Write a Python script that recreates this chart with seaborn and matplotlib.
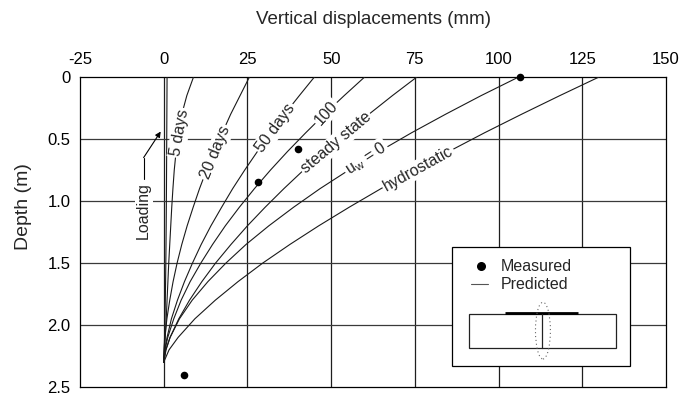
import numpy as np
import pandas as pd
import matplotlib
matplotlib.use("Agg")
import matplotlib.pyplot as plt
from matplotlib.patches import Rectangle, Ellipse
import seaborn as sns

# Depths (m) at which each predicted profile is tabulated
depth = [0.0, 0.15, 0.3, 0.45, 0.6, 0.75, 0.9, 1.05, 1.2, 1.35, 1.5,
         1.65, 1.8, 1.95, 2.1, 2.2, 2.3]

# Predicted vertical displacement profiles (mm)
loading = [1.0, 0.97, 0.94, 0.91, 0.88, 0.85, 0.82, 0.78, 0.74, 0.69,
           0.63, 0.56, 0.48, 0.38, 0.25, 0.13, 0.0]
days_5 = [8.9, 6.9, 5.4, 4.4, 3.7, 3.15, 2.75, 2.4, 2.1, 1.8, 1.5,
          1.25, 1.0, 0.75, 0.45, 0.25, 0.0]
days_20 = [25.6, 22.8, 20.0, 17.5, 15.1, 12.8, 10.7, 8.8, 7.0, 5.4, 4.0,
           2.8, 1.8, 0.95, 0.36, 0.1, 0.0]
days_50 = [45.0, 40.5, 36.1, 32.0, 28.0, 24.2, 20.6, 17.3, 14.1, 11.2, 8.6,
           6.2, 4.1, 2.3, 1.0, 0.3, 0.0]
days_100 = [60.0, 53.9, 48.0, 42.4, 37.0, 31.9, 27.1, 22.6, 18.4, 14.6, 11.1,
            7.9, 5.2, 3.0, 1.2, 0.4, 0.0]
steady = [75.6, 68.3, 61.3, 54.5, 48.0, 41.8, 35.9, 30.3, 25.0, 20.1, 15.5,
          11.4, 7.7, 4.5, 1.9, 0.7, 0.0]
uw_zero = [106.0, 94.8, 84.2, 74.0, 64.4, 55.3, 46.7, 38.8, 31.4, 24.6, 18.6,
           13.2, 8.5, 4.7, 1.9, 0.6, 0.0]
hydrostatic = [130.0, 118.3, 106.9, 95.8, 85.2, 74.8, 64.9, 55.4, 46.3, 37.7,
               29.6, 22.2, 15.4, 9.3, 4.3, 1.6, 0.0]

curve_names = ["Loading", "5 days", "20 days", "50 days", "100",
               "steady state", "u_w = 0", "hydrostatic"]
curve_values = [loading, days_5, days_20, days_50, days_100,
                steady, uw_zero, hydrostatic]

# Measured displacements
meas_disp = [106.5, 40.0, 28.3, 6.0]
meas_depth = [0.0, 0.58, 0.85, 2.4]

x_ticks = [-25, 0, 25, 50, 75, 100, 125, 150]
y_ticks = [0.0, 0.5, 1.0, 1.5, 2.0, 2.5]
y_ticklabels = ["0", "0.5", "1.0", "1.5", "2.0", "2.5"]

pred = pd.DataFrame({
    "curve": np.repeat(curve_names, len(depth)),
    "depth": np.tile(depth, len(curve_names)),
    "disp": np.concatenate(curve_values),
})
meas = pd.DataFrame({"disp": meas_disp, "depth": meas_depth})

sns.set_theme(style="white")
plt.rcParams["font.family"] = ["Liberation Sans", "DejaVu Sans"]

fig = plt.figure(figsize=(6.81, 3.95), dpi=100)
ax = fig.add_axes([80 / 681, 1 - 387 / 395, 586 / 681, 310 / 395])

# grid
for xv in x_ticks[1:-1]:
    ax.axvline(xv, color="#1e1e1e", lw=0.9, zorder=1)
for yv in y_ticks[1:-1]:
    ax.axhline(yv, color="#3a3a3a", lw=0.9, zorder=1)

sns.lineplot(data=pred, x="disp", y="depth", units="curve", estimator=None,
             sort=False, color="#1a1a1a", lw=0.8, ax=ax, zorder=3)
sns.scatterplot(data=meas, x="disp", y="depth", color="black", s=30,
                edgecolor="black", linewidth=0, ax=ax, zorder=6, clip_on=False)

ax.set_xlim(-25, 150)
ax.set_ylim(2.5, 0)
ax.set_xticks(x_ticks)
ax.set_xticklabels([str(v) for v in x_ticks])
ax.set_yticks(y_ticks)
ax.set_yticklabels(y_ticklabels)
ax.xaxis.tick_top()
ax.tick_params(axis="both", length=0, labelsize=12, colors="black")
ax.tick_params(axis="x", pad=7)
ax.tick_params(axis="y", pad=7)
for s in ax.spines.values():
    s.set_color("black")
    s.set_linewidth(0.9)

ax.xaxis.set_label_position("top")
ax.set_xlabel("Vertical displacements (mm)", fontsize=13.5)
ax.xaxis.label.set_va("center")
ax.xaxis.set_label_coords(0.5, 1 + 57 / 310)
ax.set_ylabel("Depth (m)", fontsize=14)
ax.yaxis.label.set_va("center")
ax.yaxis.set_label_coords(-56 / 586, 1 - 130 / 310)

# curve labels sitting in gaps of the lines
box = dict(boxstyle="square,pad=0.1", fc="white", ec="none")
labels = [
    ("5 days", 4.8, 0.45, 80),
    ("20 days", 15.5, 0.61, 68),
    ("50 days", 33.3, 0.41, 54),
    ("100", 48.5, 0.29, 48),
    ("steady state", 51.5, 0.53, 40),
    ("$\\mathregular{u_w}$ = 0", 60.4, 0.66, 33),
    ("hydrostatic", 76.0, 0.74, 29),
]
for txt, xv, yv, rot in labels:
    ax.text(xv, yv, txt, rotation=rot, rotation_mode="anchor",
            ha="center", va="center", fontsize=11.5, bbox=box, zorder=4)

ax.text(-6.0, 1.08, "Loading", rotation=90, ha="center", va="center",
        fontsize=11.5, bbox=box, zorder=4)
ax.plot([-6.0, -6.0], [0.82, 0.65], color="black", lw=0.8, zorder=5)
ax.annotate("", xy=(-0.9, 0.44), xytext=(-6.0, 0.65),
            arrowprops=dict(arrowstyle="-|>", color="black", lw=0.8,
                            mutation_scale=8, shrinkA=0, shrinkB=0),
            zorder=5)

# legend panel with the footing sketch
T = ax.transAxes
ax.add_patch(Rectangle((0.634, 0.0675), 0.305, 0.3855, transform=T,
                       fc="white", ec="black", lw=0.9, zorder=7))
ax.scatter([0.684], [0.389], transform=T, s=30, color="black", zorder=8)
ax.text(0.718, 0.389, "Measured", transform=T, va="center", ha="left",
        fontsize=11.5, zorder=8)
ax.plot([0.667, 0.697], [0.331, 0.331], transform=T, color="#555555",
        lw=0.8, zorder=8)
ax.text(0.718, 0.331, "Predicted", transform=T, va="center", ha="left",
        fontsize=11.5, zorder=8)
ax.add_patch(Rectangle((0.663, 0.125), 0.252, 0.110, transform=T,
                       fc="none", ec="#222222", lw=0.9, zorder=8))
ax.plot([0.726, 0.850], [0.240, 0.240], transform=T, color="black",
        lw=2.0, zorder=9, solid_capstyle="butt")
ax.plot([0.789, 0.789], [0.125, 0.235], transform=T, color="#222222",
        lw=0.9, zorder=9)
ax.add_patch(Ellipse((0.790, 0.182), 0.0255, 0.183, transform=T,
                     fc="none", ec="#666666", lw=0.8, ls=(0, (1, 2.5)),
                     zorder=9))

fig.savefig("out.png", dpi=100)
